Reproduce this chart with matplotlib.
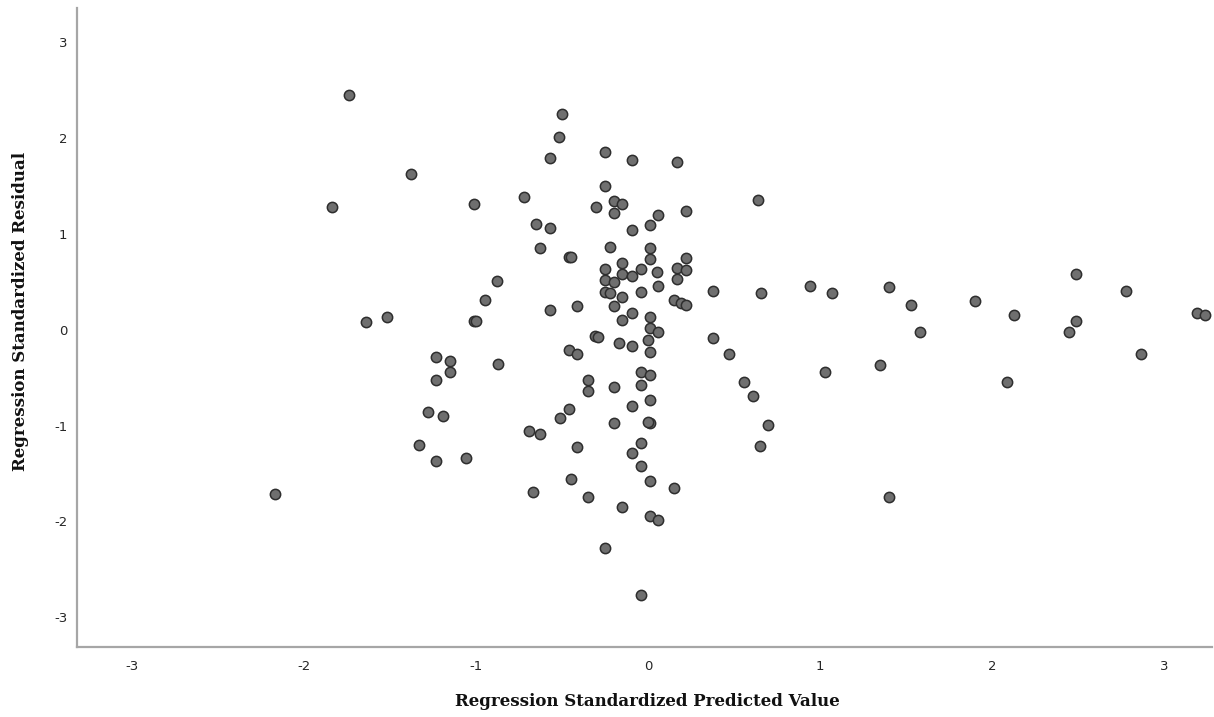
import numpy as np
import matplotlib
matplotlib.use("Agg")
import matplotlib.pyplot as plt

plt.rcParams["axes.unicode_minus"] = False

# standardized predicted value / standardized residual
pred_left = [-1.74, -1.84, -1.64, -1.52, -2.17, -1.38, -1.01, -0.72, -0.65, -0.57,
             -0.63, -0.57, -0.52, -0.50, -0.88, -0.95, -1.01, -1.00, -0.57, -0.41,
             -0.46, -0.45, -0.31, -0.29, -1.23, -1.15, -0.87, -0.46, -0.41, -1.15,
             -1.23, -0.35, -0.35, -1.28, -1.19, -0.46, -0.51, -0.69, -0.63, -0.41,
             -1.33, -1.23, -1.06, -0.45, -0.67, -0.35, -0.25]
resid_left = [2.45, 1.28, 0.08, 0.13, -1.71, 1.63, 1.31, 1.39, 1.11, 1.06,
              0.86, 1.79, 2.01, 2.25, 0.51, 0.31, 0.09, 0.09, 0.21, 0.25,
              0.76, 0.76, -0.06, -0.07, -0.28, -0.32, -0.36, -0.21, -0.25, -0.44,
              -0.52, -0.52, -0.64, -0.86, -0.90, -0.83, -0.92, -1.06, -1.09, -1.22,
              -1.20, -1.37, -1.34, -1.56, -1.69, -1.74, -2.28]

pred_mid = [-0.25, -0.09, 0.17, 0.64, -0.25, -0.20, -0.15, -0.30, -0.20, 0.06,
            0.22, 0.01, -0.09, -0.22, 0.01, -0.15, 0.01, -0.25, -0.04, 0.22,
            0.05, -0.15, -0.09, 0.17, 0.22, -0.25, -0.20, 0.17, 0.06, -0.25,
            -0.22, -0.04, 0.38, 0.66, -0.15, 0.15, 0.19, 0.22, -0.20, -0.09,
            -0.15, 0.01, 0.01, 0.06, -0.17, -0.09, 0.00, 0.38, 0.47, 0.01,
            -0.20, -0.04, 0.01, -0.04, 0.56, 0.61, -0.09, 0.01, -0.20, 0.01,
            0.00, -0.04, -0.09, -0.04, 0.65, 0.70, 0.01, 0.15, -0.15, 0.01,
            0.06, -0.04]
resid_mid = [1.86, 1.77, 1.75, 1.36, 1.50, 1.35, 1.31, 1.28, 1.22, 1.20,
             1.24, 1.10, 1.04, 0.87, 0.86, 0.70, 0.74, 0.64, 0.64, 0.75,
             0.60, 0.58, 0.56, 0.65, 0.62, 0.52, 0.50, 0.53, 0.46, 0.40,
             0.38, 0.40, 0.41, 0.38, 0.34, 0.31, 0.28, 0.26, 0.25, 0.18,
             0.10, 0.13, 0.02, -0.02, -0.14, -0.17, -0.11, -0.08, -0.25, -0.23,
             -0.60, -0.44, -0.47, -0.57, -0.54, -0.69, -0.79, -0.73, -0.97, -0.97,
             -0.96, -1.18, -1.28, -1.42, -1.21, -0.99, -1.58, -1.65, -1.85, -1.94,
             -1.98, -2.77]

pred_right = [0.94, 1.07, 1.40, 1.53, 1.58, 1.90, 2.13, 2.49, 2.78, 2.49,
              2.45, 3.19, 3.24, 2.87, 1.03, 1.35, 2.09, 1.40]
resid_right = [0.46, 0.39, 0.45, 0.26, -0.02, 0.30, 0.16, 0.58, 0.41, 0.09,
               -0.02, 0.18, 0.16, -0.25, -0.44, -0.37, -0.54, -1.74]

x_ticks = [-3, -2, -1, 0, 1, 2, 3]
y_ticks = [-3, -2, -1, 0, 1, 2, 3]
x_label = "Regression Standardized Predicted Value"
y_label = "Regression Standardized Residual"

predicted = np.array(pred_left + pred_mid + pred_right)
residual = np.array(resid_left + resid_mid + resid_right)

W, H = 1214, 717
fig = plt.figure(figsize=(W / 100, H / 100), dpi=100)
ax = fig.add_axes([77 / W, 1 - 647 / H, 1135 / W, 639 / H])

ax.scatter(predicted, residual, s=55, facecolor="#6f6f6f", edgecolor="#2e2e2e",
           linewidths=1.1, zorder=3)

ax.set_xlim(-3.32, 3.28)
ax.set_ylim(-3.31, 3.36)
ax.set_xticks(x_ticks)
ax.set_yticks(y_ticks)
ax.tick_params(length=0, labelsize=9.5, labelcolor="#262626")
ax.tick_params(axis="x", pad=9)
ax.tick_params(axis="y", pad=7)

for side in ("top", "right"):
    ax.spines[side].set_visible(False)
for side in ("left", "bottom"):
    ax.spines[side].set_color("#a6a6a6")
    ax.spines[side].set_linewidth(1.6)

# axis titles placed where SPSS puts them
fig.text(647 / W, 1 - 702 / H, x_label, family="DejaVu Serif", weight="bold",
         size=12, ha="center", va="center", color="#111111")
fig.text(21 / W, 1 - 311 / H, y_label, family="DejaVu Serif", weight="bold",
         size=12, ha="center", va="center", rotation=90, color="#111111")

fig.savefig("out.png", dpi=100)
